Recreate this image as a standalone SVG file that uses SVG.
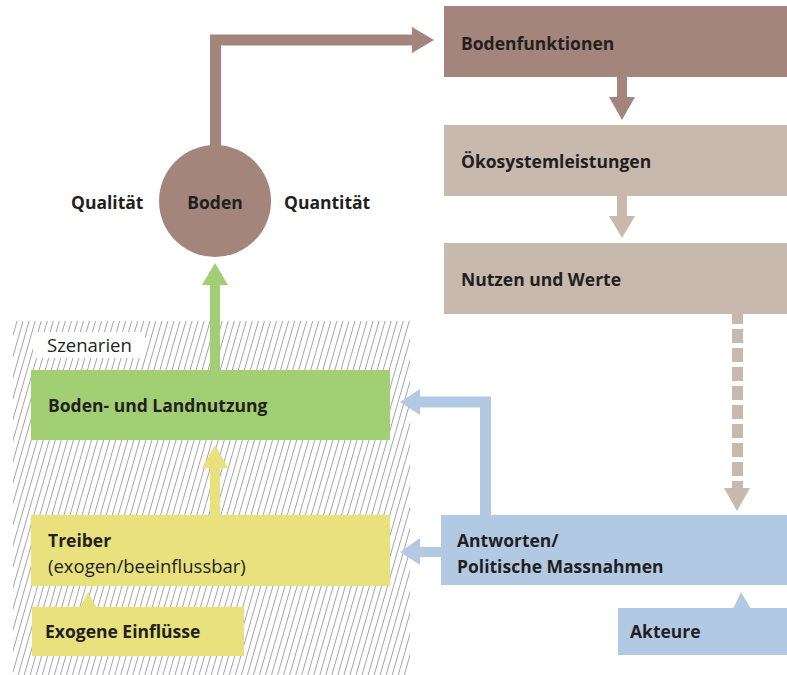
<svg xmlns="http://www.w3.org/2000/svg" width="787" height="675" viewBox="0 0 787 675">
<defs>
<pattern id="hatch" patternUnits="userSpaceOnUse" width="5.8" height="6" patternTransform="rotate(16)">
<line x1="0.5" y1="0" x2="0.5" y2="6" stroke="#9a9a9a" stroke-width="0.9"/>
</pattern>
</defs>
<style>
text{font-family:"Open Sans","Noto Sans","Liberation Sans",sans-serif;fill:#231f20;font-size:18.5px}
.b{font-weight:bold;font-size:17.5px}
.brown{fill:#a4857b}
.beige{fill:#c7b9ad}
.green{fill:#a2cf73}
.yellow{fill:#e8e17e}
.blue{fill:#b2c9e3}
</style>
<rect id="szenarien-area" x="13" y="321" width="397" height="354" fill="url(#hatch)"/>
<g id="szenarien-label">
<rect x="33" y="332" width="112" height="26" fill="#fff"/>
<text x="47" y="352">Szenarien</text>
</g>
<g id="connectors">
<path d="M215.5,148 V40 H413" fill="none" stroke="#a4857b" stroke-width="11"/>
<polygon class="brown" points="412,27 434,40 412,53"/>
<rect class="brown" x="617" y="76" width="10" height="22"/>
<polygon class="brown" points="609,97 635,97 622,120"/>
<rect class="beige" x="617" y="195" width="10" height="22"/>
<polygon class="beige" points="609,216 635,216 622,238"/>
<line x1="737.5" y1="314" x2="737.5" y2="489" stroke="#c7b9ad" stroke-width="11" stroke-dasharray="14 5" stroke-dashoffset="4"/>
<polygon class="beige" points="724,488 750,488 737,511"/>
<rect class="green" x="210" y="284" width="10" height="87"/>
<polygon class="green" points="202,285 228,285 215,263"/>
<rect class="yellow" x="210" y="467" width="10" height="49"/>
<polygon class="yellow" points="202,468 228,468 215,445"/>
<path d="M485.5,516 V402 H419" fill="none" stroke="#b2c9e3" stroke-width="11"/>
<polygon class="blue" points="420,389 400,402 420,415"/>
<rect class="blue" x="419" y="547" width="23" height="10"/>
<polygon class="blue" points="420,538 400,552 420,565"/>
</g>
<g id="boden">
<circle class="brown" cx="215" cy="201" r="56"/>
<text class="b" x="215" y="209" text-anchor="middle">Boden</text>
</g>
<g id="qualitaet"><text class="b" x="71" y="209">Qualität</text></g>
<g id="quantitaet"><text class="b" x="284" y="209">Quantität</text></g>
<g id="bodenfunktionen">
<rect class="brown" x="444" y="6" width="343" height="71"/>
<text class="b" x="461" y="50">Bodenfunktionen</text>
</g>
<g id="oekosystemleistungen">
<rect class="beige" x="444" y="125" width="343" height="71"/>
<text class="b" x="461" y="168">Ökosystemleistungen</text>
</g>
<g id="nutzen-werte">
<rect class="beige" x="444" y="243" width="343" height="71"/>
<text class="b" x="461" y="286">Nutzen und Werte</text>
</g>
<g id="landnutzung">
<rect class="green" x="31" y="370" width="359" height="70"/>
<text class="b" x="48" y="412">Boden- und Landnutzung</text>
</g>
<g id="treiber">
<rect class="yellow" x="31" y="515" width="359" height="71"/>
<text class="b" x="48" y="547">Treiber</text>
<text x="48" y="573">(exogen/beeinflussbar)</text>
</g>
<g id="exogene-einfluesse">
<polygon class="yellow" points="80,608 88,592 97,608"/>
<rect class="yellow" x="32" y="607" width="212" height="49"/>
<text class="b" x="45" y="638">Exogene Einflüsse</text>
</g>
<g id="antworten">
<rect class="blue" x="441" y="515" width="346" height="70"/>
<text class="b" x="457" y="547">Antworten/</text>
<text class="b" x="457" y="573">Politische Massnahmen</text>
</g>
<g id="akteure">
<polygon class="blue" points="733,609 741,592 751,609"/>
<rect class="blue" x="618" y="608" width="169" height="47"/>
<text class="b" x="630" y="638">Akteure</text>
</g>
</svg>
